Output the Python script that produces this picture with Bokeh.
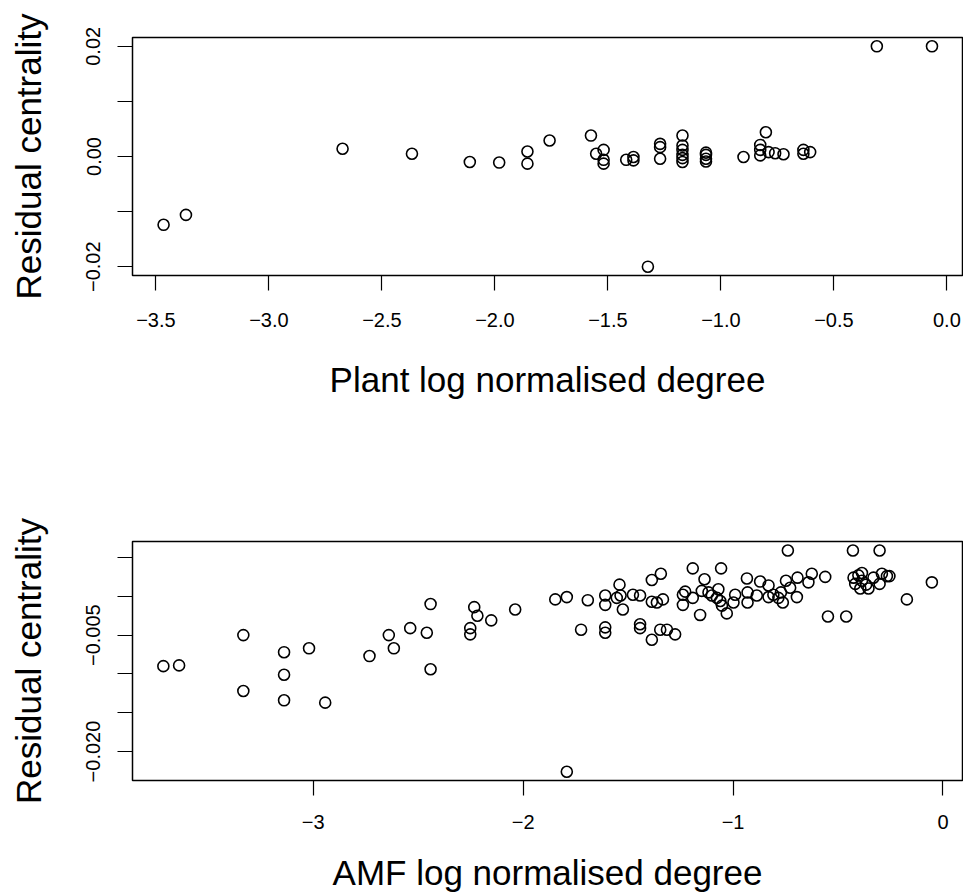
from bokeh.plotting import figure
from bokeh.models import Range1d, FixedTicker
from bokeh.layouts import column
from bokeh.embed import file_html
from bokeh.resources import INLINE

# ---- Panel 1: plants ----
plant_x = [-3.466, -3.367, -2.674, -2.367, -2.111, -1.981, -1.856, -1.856, -1.758,
           -1.575, -1.552, -1.519, -1.519, -1.519, -1.419, -1.387, -1.387,
           -1.269, -1.269, -1.269, -1.170, -1.170, -1.170, -1.170, -1.170, -1.170,
           -1.066, -1.066, -1.066, -1.066, -0.900, -0.801, -0.826, -0.826, -0.826,
           -0.789, -0.760, -0.723, -0.635, -0.635, -0.605, -0.310, -0.066, -1.323]
plant_y = [-0.0124, -0.0106, 0.0014, 0.0005, -0.0010, -0.0011, 0.0009, -0.0013, 0.0029,
           0.0038, 0.0005, 0.0012, -0.0006, -0.0013, -0.0006, -0.0001, -0.0007,
           0.0023, 0.0017, -0.0004, 0.0038, 0.0020, 0.0012, 0.0003, -0.0003, -0.0010,
           0.0007, 0.0003, -0.0004, -0.0009, -0.0001, 0.0044, 0.0021, 0.0012, 0.0002,
           0.0008, 0.0006, 0.0004, 0.0012, 0.0005, 0.0008, 0.0200, 0.0200, -0.0200]

plant_xticks = [-3.5, -3.0, -2.5, -2.0, -1.5, -1.0, -0.5, 0.0]
plant_xlabels = ["\u22123.5", "\u22123.0", "\u22122.5", "\u22122.0", "\u22121.5", "\u22121.0", "\u22120.5", "0.0"]
plant_yticks = [-0.02, -0.01, 0.0, 0.01, 0.02]
plant_ylabels = ["\u22120.02", "", "0.00", "", "0.02"]

# ---- Panel 2: AMF ----
amf_x = [-3.714, -3.639, -3.333, -3.333, -3.139, -3.139, -3.139, -3.020, -2.943, -2.732,
         -2.640, -2.616, -2.538, -2.459, -2.441, -2.441, -2.252, -2.252, -2.233, -2.218,
         -2.152, -2.038, -1.847, -1.792, -1.692, -1.724, -1.609, -1.609, -1.609, -1.609,
         -1.554, -1.541, -1.536, -1.525, -1.477, -1.443, -1.443, -1.443, -1.387, -1.344,
         -1.387, -1.363, -1.334, -1.387, -1.347, -1.315, -1.276, -1.239, -1.239, -1.228,
         -1.192, -1.192, -1.157, -1.136, -1.149, -1.117, -1.101, -1.070, -1.077, -1.061,
         -1.057, -1.053, -1.030, -0.998, -0.990, -0.934, -0.931, -0.931, -0.887, -0.871,
         -0.831, -0.831, -0.808, -0.784, -0.772, -0.763, -0.748, -0.739, -0.728, -0.696,
         -0.693, -0.641, -0.625, -0.561, -0.548, -0.461, -0.429, -0.302, -0.426, -0.418,
         -0.403, -0.386, -0.386, -0.394, -0.366, -0.355, -0.331, -0.302, -0.291, -0.267,
         -0.255, -0.172, -0.053, -1.792]
amf_y = [-0.0090, -0.0089, -0.0050, -0.0122, -0.0072, -0.0101, -0.0134, -0.0067, -0.0137, -0.0077,
         -0.0050, -0.0067, -0.0041, -0.0047, -0.0010, -0.0094, -0.0041, -0.0049, -0.0014, -0.0025,
         -0.0031, -0.0017, -0.0004, -0.0001, -0.0005, -0.0043, 0.0001, -0.0011, -0.0040, -0.0047,
         -0.0002, 0.0015, 0.0001, -0.0017, 0.0002, 0.0001, -0.0036, -0.0041, 0.0021, 0.0029,
         -0.0007, -0.0008, -0.0004, -0.0056, -0.0043, -0.0043, -0.0049, 0.0002, -0.0011, 0.0006,
         0.0036, -0.0002, -0.0024, 0.0022, 0.0007, 0.0005, 0.0001, 0.0009, -0.0002, -0.0006,
         0.0036, -0.0012, -0.0022, -0.0008, 0.0002, 0.0023, 0.0005, -0.0008, 0.0001, 0.0019,
         0.0014, -0.0001, 0.0002, -0.0002, 0.0005, -0.0008, 0.0020, 0.0059, 0.0011, -0.0001,
         0.0024, 0.0018, 0.0029, 0.0025, -0.0026, -0.0026, 0.0059, 0.0059, 0.0024, 0.0016,
         0.0027, 0.0030, 0.0020, 0.0010, 0.0015, 0.0010, 0.0024, 0.0016, 0.0029, 0.0026,
         0.0026, -0.0004, 0.0018, -0.0226]

amf_xticks = [-3, -2, -1, 0]
amf_xlabels = ["\u22123", "\u22122", "\u22121", "0"]
amf_yticks = [-0.020, -0.015, -0.010, -0.005, 0.000, 0.005]
amf_ylabels = ["\u22120.020", "", "", "\u22120.005", "", ""]

FONT = "Liberation Sans"


def make_panel(xs, ys, xr, yr, xticks, xlabels, yticks, ylabels, xtitle,
               height, top, frame_h, xlabel_standoff, xtitle_standoff):
    p = figure(width=963, height=height, output_backend="svg", toolbar_location=None,
               x_range=Range1d(*xr), y_range=Range1d(*yr),
               min_border_left=132, min_border_right=1, min_border_top=top,
               min_border_bottom=height - top - frame_h,
               frame_width=830, frame_height=frame_h)
    p.background_fill_color = "white"
    p.border_fill_color = "white"
    p.outline_line_color = "black"
    p.outline_line_width = 1.5
    p.xgrid.visible = False
    p.ygrid.visible = False
    p.scatter(xs, ys, marker="circle", size=11, fill_color=None,
              line_color="black", line_width=1.6)

    p.xaxis.ticker = FixedTicker(ticks=xticks)
    p.xaxis.major_label_overrides = {t: l for t, l in zip(xticks, xlabels)}
    p.yaxis.ticker = FixedTicker(ticks=yticks)
    p.yaxis.major_label_overrides = {t: l for t, l in zip(yticks, ylabels)}
    for ax in (p.xaxis, p.yaxis):
        ax.axis_line_color = None
        ax.major_tick_out = 15
        ax.major_tick_in = 0
        ax.major_tick_line_color = "black"
        ax.major_tick_line_width = 1.2
        ax.minor_tick_line_color = None
        ax.major_label_text_font = FONT
        ax.major_label_text_font_size = "20px"
        ax.major_label_text_color = "black"
        ax.axis_label_text_font = FONT
        ax.axis_label_text_font_size = "35px"
        ax.axis_label_text_font_style = "normal"
        ax.axis_label_text_color = "black"
    p.yaxis.major_label_orientation = "vertical"
    p.xaxis.major_label_standoff = xlabel_standoff
    p.yaxis.major_label_standoff = 17
    p.xaxis.axis_label = xtitle
    p.yaxis.axis_label = "Residual centrality"
    p.xaxis.axis_label_standoff = xtitle_standoff
    p.yaxis.axis_label_standoff = 36
    return p


p1 = make_panel(plant_x, plant_y, (-3.6035, 0.069), (-0.0216, 0.0216),
                plant_xticks, plant_xlabels, plant_yticks, plant_ylabels,
                "Plant log normalised degree", 512, 37, 238, 22, 30)
p2 = make_panel(amf_x, amf_y, (-3.861, 0.093), (-0.02373, 0.00706),
                amf_xticks, amf_xlabels, amf_yticks, amf_ylabels,
                "AMF log normalised degree", 384, 29, 239, 19, 21)

layout = column(p1, p2, spacing=0)
open("out.html", "w").write(file_html(layout, INLINE))
